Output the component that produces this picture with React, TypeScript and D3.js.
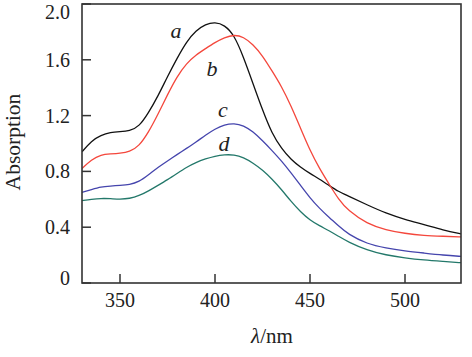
import React from "react";
import * as d3 from "d3";

const wavelengths = [330, 335, 340, 345, 350, 355, 360, 365, 370, 375, 380, 385, 390, 395, 400, 405, 410, 415, 420, 425, 430, 435, 440, 445, 450, 455, 460, 465, 470, 480, 490, 500, 510, 520, 530];
const seriesA = [0.94, 1.02, 1.06, 1.08, 1.085, 1.09, 1.12, 1.22, 1.34, 1.48, 1.61, 1.73, 1.81, 1.855, 1.87, 1.85, 1.78, 1.62, 1.43, 1.24, 1.07, 0.965, 0.885, 0.83, 0.785, 0.745, 0.70, 0.655, 0.625, 0.56, 0.50, 0.455, 0.42, 0.38, 0.35];
const seriesB = [0.82, 0.885, 0.92, 0.925, 0.93, 0.94, 0.98, 1.08, 1.21, 1.35, 1.48, 1.575, 1.635, 1.68, 1.725, 1.76, 1.78, 1.765, 1.71, 1.63, 1.52, 1.41, 1.27, 1.11, 0.95, 0.82, 0.71, 0.60, 0.52, 0.425, 0.38, 0.355, 0.34, 0.335, 0.33];
const seriesC = [0.65, 0.67, 0.69, 0.695, 0.70, 0.705, 0.725, 0.775, 0.83, 0.875, 0.92, 0.965, 1.01, 1.06, 1.105, 1.135, 1.145, 1.13, 1.085, 1.02, 0.95, 0.875, 0.79, 0.70, 0.61, 0.535, 0.47, 0.41, 0.35, 0.28, 0.25, 0.23, 0.215, 0.20, 0.19];
const seriesD = [0.59, 0.60, 0.607, 0.605, 0.60, 0.605, 0.625, 0.66, 0.70, 0.74, 0.785, 0.83, 0.865, 0.89, 0.91, 0.92, 0.92, 0.90, 0.86, 0.81, 0.745, 0.67, 0.585, 0.51, 0.45, 0.41, 0.375, 0.335, 0.295, 0.235, 0.20, 0.18, 0.165, 0.155, 0.145];

const seriesNames = ["a", "b", "c", "d"];
const seriesColors = ["#111111", "#f4473c", "#4545ad", "#23786a"];
const labelPositions = [[176, 38], [212, 76], [223, 117], [224, 151]];

const xTicks = [350, 400, 450, 500];
const yTicks = [0, 0.4, 0.8, 1.2, 1.6, 2.0];
const yTickLabels = ["0", "0.4", "0.8", "1.2", "1.6", "2.0"];

export default function App() {
  const W = 472, H = 357;
  const left = 82, right = 461, top = 4, bottom = 283;
  const x = d3.scaleLinear().domain([330, 530]).range([left, left + 200 * 1.9]);
  const y = d3.scaleLinear().domain([0, 2]).range([bottom, top]);
  const all = [seriesA, seriesB, seriesC, seriesD];
  const line = d3
    .line<number>()
    .x((_, i) => x(wavelengths[i]))
    .y((v) => y(v))
    .curve(d3.curveBasis);
  const font = "'Liberation Serif', 'Times New Roman', serif";
  const tickLen = 9;
  return (
    <svg width={W} height={H} style={{ position: "absolute", left: 0, top: 0, background: "#fff" }} fontFamily={font}>
      <defs>
        <clipPath id="plot">
          <rect x={left} y={top} width={right - left} height={bottom - top} />
        </clipPath>
      </defs>
      <g clipPath="url(#plot)">
        {all.map((s, k) => (
          <path key={k} d={line(s) || ""} fill="none" stroke={seriesColors[k]} strokeWidth={1.3} />
        ))}
      </g>
      {seriesNames.map((n, k) => (
        <text key={n} x={labelPositions[k][0]} y={labelPositions[k][1]} fontSize={22} fontStyle="italic" textAnchor="middle" fill="#222">
          {n}
        </text>
      ))}
      <rect x={left} y={top} width={right - left} height={bottom - top} fill="none" stroke="#333" strokeWidth={1.6} />
      {xTicks.map((t) => (
        <g key={t}>
          <line x1={x(t)} x2={x(t)} y1={bottom} y2={bottom - tickLen} stroke="#333" strokeWidth={1.5} />
          <text x={x(t)} y={307} fontSize={20} textAnchor="middle" fill="#222">
            {t}
          </text>
        </g>
      ))}
      {yTicks.map((t, i) => (
        <g key={t}>
          <line x1={left} x2={left + tickLen} y1={y(t)} y2={y(t)} stroke="#333" strokeWidth={1.5} />
          <text x={70} y={Math.min(278, Math.max(11.5, y(t)))} dy="0.35em" fontSize={20} textAnchor="end" fill="#222">
            {yTickLabels[i]}
          </text>
        </g>
      ))}
      <text x={272} y={343} fontSize={21} textAnchor="middle" fill="#222">
        <tspan fontStyle="italic">λ</tspan>/nm
      </text>
      <text transform="translate(20,142) rotate(-90)" fontSize={21.5} textAnchor="middle" fill="#222">
        Absorption
      </text>
    </svg>
  );
}
